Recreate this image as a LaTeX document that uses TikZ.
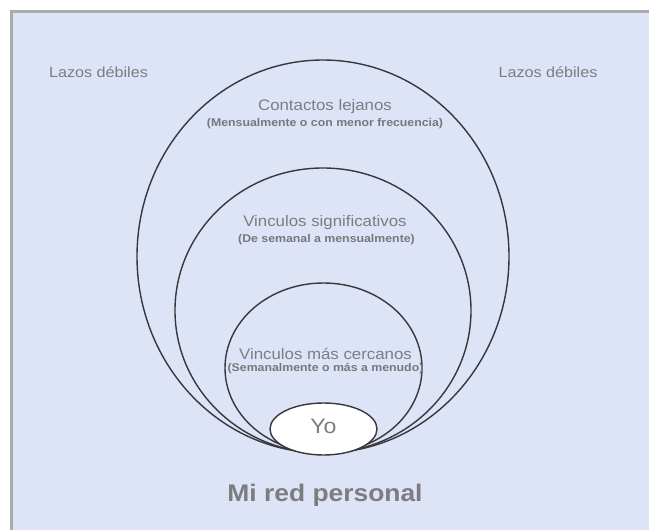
\documentclass[tikz,border=0pt]{standalone}
\usepackage{fontspec}
\setmainfont{Liberation Sans}[FakeStretch=1.1]
\usetikzlibrary{shapes.geometric}
\definecolor{bgc}{RGB}{221,228,248}
\definecolor{framec}{RGB}{170,170,170}
\definecolor{ringc}{RGB}{55,55,60}
\definecolor{txtc}{RGB}{125,125,128}
\definecolor{subc}{RGB}{120,120,124}
\begin{document}
\begin{tikzpicture}[x=1pt,y=-1pt,
  ring/.style={ellipse, draw=ringc, line width=1.4pt, inner sep=0pt, outer sep=0pt},
  title/.style={text=txtc, anchor=base, inner sep=0pt, font=\fontsize{15.3}{18}\selectfont},
  subtitle/.style={text=subc, anchor=base, inner sep=0pt, font=\bfseries\fontsize{11.2}{13}\selectfont},
  weak/.style={text=txtc, anchor=base, inner sep=0pt, font=\fontsize{14.7}{17}\selectfont}]
\useasboundingbox (0,0) rectangle (649,530);
\fill[white] (0,0) rectangle (649,530);
\fill[bgc] (10,10) rectangle (649,530);
\draw[framec, line width=3pt] (11.5,530) -- (11.5,11.5) -- (649,11.5);

\node[ring, minimum width=372pt, minimum height=393pt] (outer) at (323,256.5) {};
\node[ring, minimum width=296pt, minimum height=285pt] (middle) at (323,310.5) {};
\node[ring, minimum width=197pt, minimum height=170pt] (inner) at (323.5,368) {};
\node[ring, fill=white, minimum width=107pt, minimum height=52pt] (yo) at (323.5,429) {};

\node[weak] (lazosL) at (98.5,77.7) {Lazos débiles};
\node[weak] (lazosR) at (548,77.7) {Lazos débiles};

\node[title] (t1) at (325,110.7) {Contactos lejanos};
\node[subtitle] (s1) at (325,126) {(Mensualmente o con menor frecuencia)};
\node[title] (t2) at (325,226.7) {Vinculos significativos};
\node[subtitle] (s2) at (326.5,242.3) {(De semanal a mensualmente)};
\node[title] (t3) at (325.5,359) {Vinculos más cercanos};
\node[subtitle] (s3) at (325.5,371.7) {(Semanalmente o más a menudo)};
\node[text=txtc, anchor=base, inner sep=0pt, font=\fontsize{21}{24}\selectfont] (yotxt) at (323.5,433.3) {Yo};
\node[text=txtc, anchor=base, inner sep=0pt, font=\bfseries\fontsize{24}{28}\selectfont] (mired) at (325,501.7) {Mi red personal};
\end{tikzpicture}
\end{document}
